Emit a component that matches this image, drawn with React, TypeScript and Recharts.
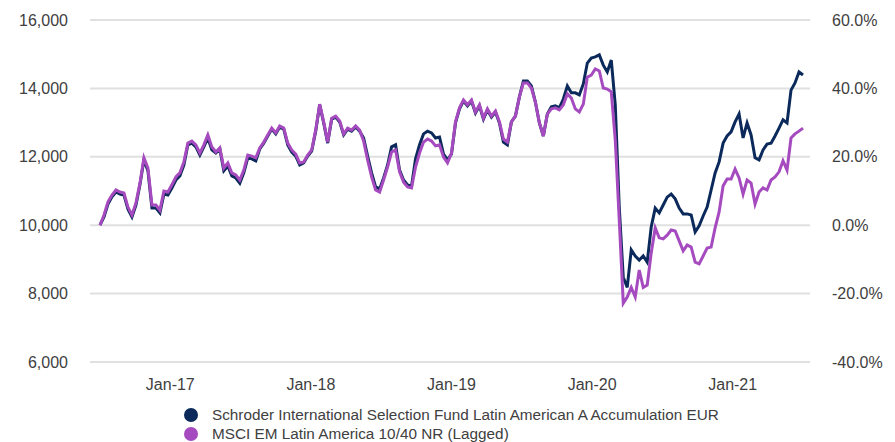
import { LineChart, Line, XAxis, YAxis, CartesianGrid } from 'recharts';

// Growth of 10,000 (EUR), end-Jun 2016 to end-Jun 2021, equally spaced observations
const START = 2016.5;
const END = 2021.5;
const BASE = 10000;

const fundValues = [
    10000, 10240, 10620, 10830, 10970, 10910, 10880, 10470, 10240, 10590,
    11180, 11910, 11590, 10500, 10500, 10360, 10910, 10880, 11090, 11320,
    11440, 11760, 12350, 12400, 12290, 12050, 12290, 12550, 12200, 12110,
    12230, 11590, 11730, 11440, 11380, 11230, 11530, 11970, 11940, 11880,
    12230, 12400, 12610, 12810, 12670, 12870, 12810, 12350, 12140, 12020,
    11760, 11820, 12020, 12170, 12750, 13520, 12990, 12400, 13100, 13160,
    13020, 12640, 12810, 12750, 12870, 12750, 12550, 12020, 11530, 11120,
    11060, 11380, 11760, 12290, 12350, 11610, 11320, 11180, 11150, 11940,
    12350, 12670, 12750, 12700, 12550, 12580, 12080, 11910, 12080, 12990,
    13400, 13630, 13490, 13630, 13280, 13490, 13100, 13370, 13160, 13310,
    12990, 12430, 12350, 13020, 13190, 13750, 14220, 14220, 14070, 13600,
    12990, 12610, 13250, 13460, 13490, 13430, 13690, 14070, 13870, 13870,
    13810, 14130, 14740, 14890, 14920, 14980, 14680, 14480, 14830, 13520,
    10530, 8480, 8180, 9280, 9100, 8980, 9100, 8920, 9950, 10500,
    10360, 10590, 10820, 10910, 10770, 10500, 10330, 10330, 10300, 9800,
    9980, 10270, 10530, 11030, 11530, 11850, 12400, 12610, 12730, 13020,
    13250, 12550, 12990, 12640, 11970, 11910, 12200, 12370, 12400, 12610,
    12840, 13080, 12990, 13950, 14160, 14480, 14390,
];

const benchmarkValues = [
    10000, 10300, 10680, 10880, 11030, 10970, 10940, 10530, 10300, 10650,
    11230, 11970, 11670, 10590, 10590, 10440, 11000, 10970, 11180, 11410,
    11530, 11850, 12400, 12460, 12350, 12110, 12350, 12640, 12290, 12140,
    12260, 11670, 11820, 11530, 11470, 11320, 11610, 12050, 12020, 11970,
    12260, 12430, 12640, 12840, 12700, 12900, 12840, 12400, 12200, 12080,
    11820, 11850, 12050, 12200, 12780, 13540, 13020, 12430, 13130, 13190,
    13050, 12670, 12840, 12780, 12900, 12780, 12460, 11910, 11410, 11030,
    10970, 11320, 11700, 12140, 12200, 11560, 11260, 11120, 11090, 11700,
    12110, 12430, 12520, 12460, 12320, 12350, 11990, 11820, 12110, 13020,
    13430, 13660, 13520, 13660, 13310, 13520, 13130, 13400, 13190, 13340,
    13020, 12520, 12430, 13020, 13190, 13750, 14160, 14160, 14010, 13600,
    12990, 12610, 13250, 13400, 13430, 13370, 13520, 13840, 13720, 13400,
    13310, 13540, 14330, 14390, 14570, 14510, 14010, 13980, 13900, 12490,
    10150, 7720, 7900, 8180, 7900, 8690, 8180, 8250, 9190, 9920,
    9630, 9600, 9710, 9860, 9830, 9540, 9250, 9420, 9360, 8920,
    8870, 9100, 9330, 9360, 9920, 10390, 11150, 11350, 11350, 11640,
    11380, 10910, 11320, 11230, 10620, 10970, 11090, 11030, 11320, 11410,
    11560, 11880, 11610, 12550, 12670, 12750, 12840,
];

const yearTicks = [2017, 2018, 2019, 2020, 2021];
const yearLabels = ['Jan-17', 'Jan-18', 'Jan-19', 'Jan-20', 'Jan-21'];
const leftTicks = [6000, 8000, 10000, 12000, 14000, 16000];
const rightTicks = [-40, -20, 0, 20, 40, 60];

const seriesNames = [
    'Schroder International Selection Fund Latin American A Accumulation EUR',
    'MSCI EM Latin America 10/40 NR (Lagged)',
];
const seriesColors = ['#0b2a5b', '#a64bbf'];

const step = (END - START) / (fundValues.length - 1);
// benchmark is drawn against the right (% return) axis, which lines up with the left one
const data = fundValues.map((fund, i) => ({
    t: START + i * step,
    fund,
    benchmarkPct: (benchmarkValues[i] / BASE - 1) * 100,
}));

const tickStyle = { fill: '#404040', fontSize: 16, fontFamily: 'Liberation Sans, Arial, sans-serif' };

function App() {
    return (
        <div style={{ position: 'absolute', left: 0, top: 0, width: 895, height: 442 }}>
            <LineChart width={895} height={442} data={data} margin={{ top: 20, right: 0, bottom: 50, left: 0 }}>
                <CartesianGrid yAxisId="left" vertical={false} stroke="#e0e0e0" strokeWidth={2} />
                <XAxis
                    dataKey="t"
                    type="number"
                    domain={[START, END]}
                    ticks={yearTicks}
                    tickFormatter={(v: number) => yearLabels[yearTicks.indexOf(v)] ?? ''}
                    padding={{ left: 10, right: 7 }}
                    height={30}
                    axisLine={false}
                    tickLine={false}
                    tickSize={0}
                    tickMargin={17}
                    tick={tickStyle}
                />
                <YAxis
                    yAxisId="left"
                    domain={[6000, 16000]}
                    ticks={leftTicks}
                    tickFormatter={(v: number) => v.toLocaleString('en-US')}
                    width={90}
                    axisLine={false}
                    tickLine={false}
                    tickSize={0}
                    tickMargin={22}
                    tick={tickStyle}
                />
                <YAxis
                    yAxisId="right"
                    orientation="right"
                    domain={[-40, 60]}
                    ticks={rightTicks}
                    tickFormatter={(v: number) => v.toFixed(1) + '%'}
                    width={85}
                    axisLine={false}
                    tickLine={false}
                    tickSize={0}
                    tickMargin={22}
                    tick={{ ...tickStyle, textAnchor: 'start' }}
                />
                <Line yAxisId="left" type="linear" dataKey="fund" stroke={seriesColors[0]} strokeWidth={3} dot={false} isAnimationActive={false} />
                <Line yAxisId="right" type="linear" dataKey="benchmarkPct" stroke={seriesColors[1]} strokeWidth={3} dot={false} isAnimationActive={false} />
            </LineChart>
            <div style={{ position: 'absolute', left: 184, top: 405, fontFamily: 'Liberation Sans, Arial, sans-serif', fontSize: 15.3, color: '#404040' }}>
                {seriesNames.map((name, i) => (
                    <div key={i} style={{ display: 'flex', alignItems: 'center', height: 19.5 }}>
                        <div style={{ width: 14, height: 14, borderRadius: '50%', backgroundColor: seriesColors[i], marginRight: 14, flexShrink: 0 }}></div>
                        <span style={{ whiteSpace: 'nowrap' }}>{name}</span>
                    </div>
                ))}
            </div>
        </div>
    );
}

export default App;
